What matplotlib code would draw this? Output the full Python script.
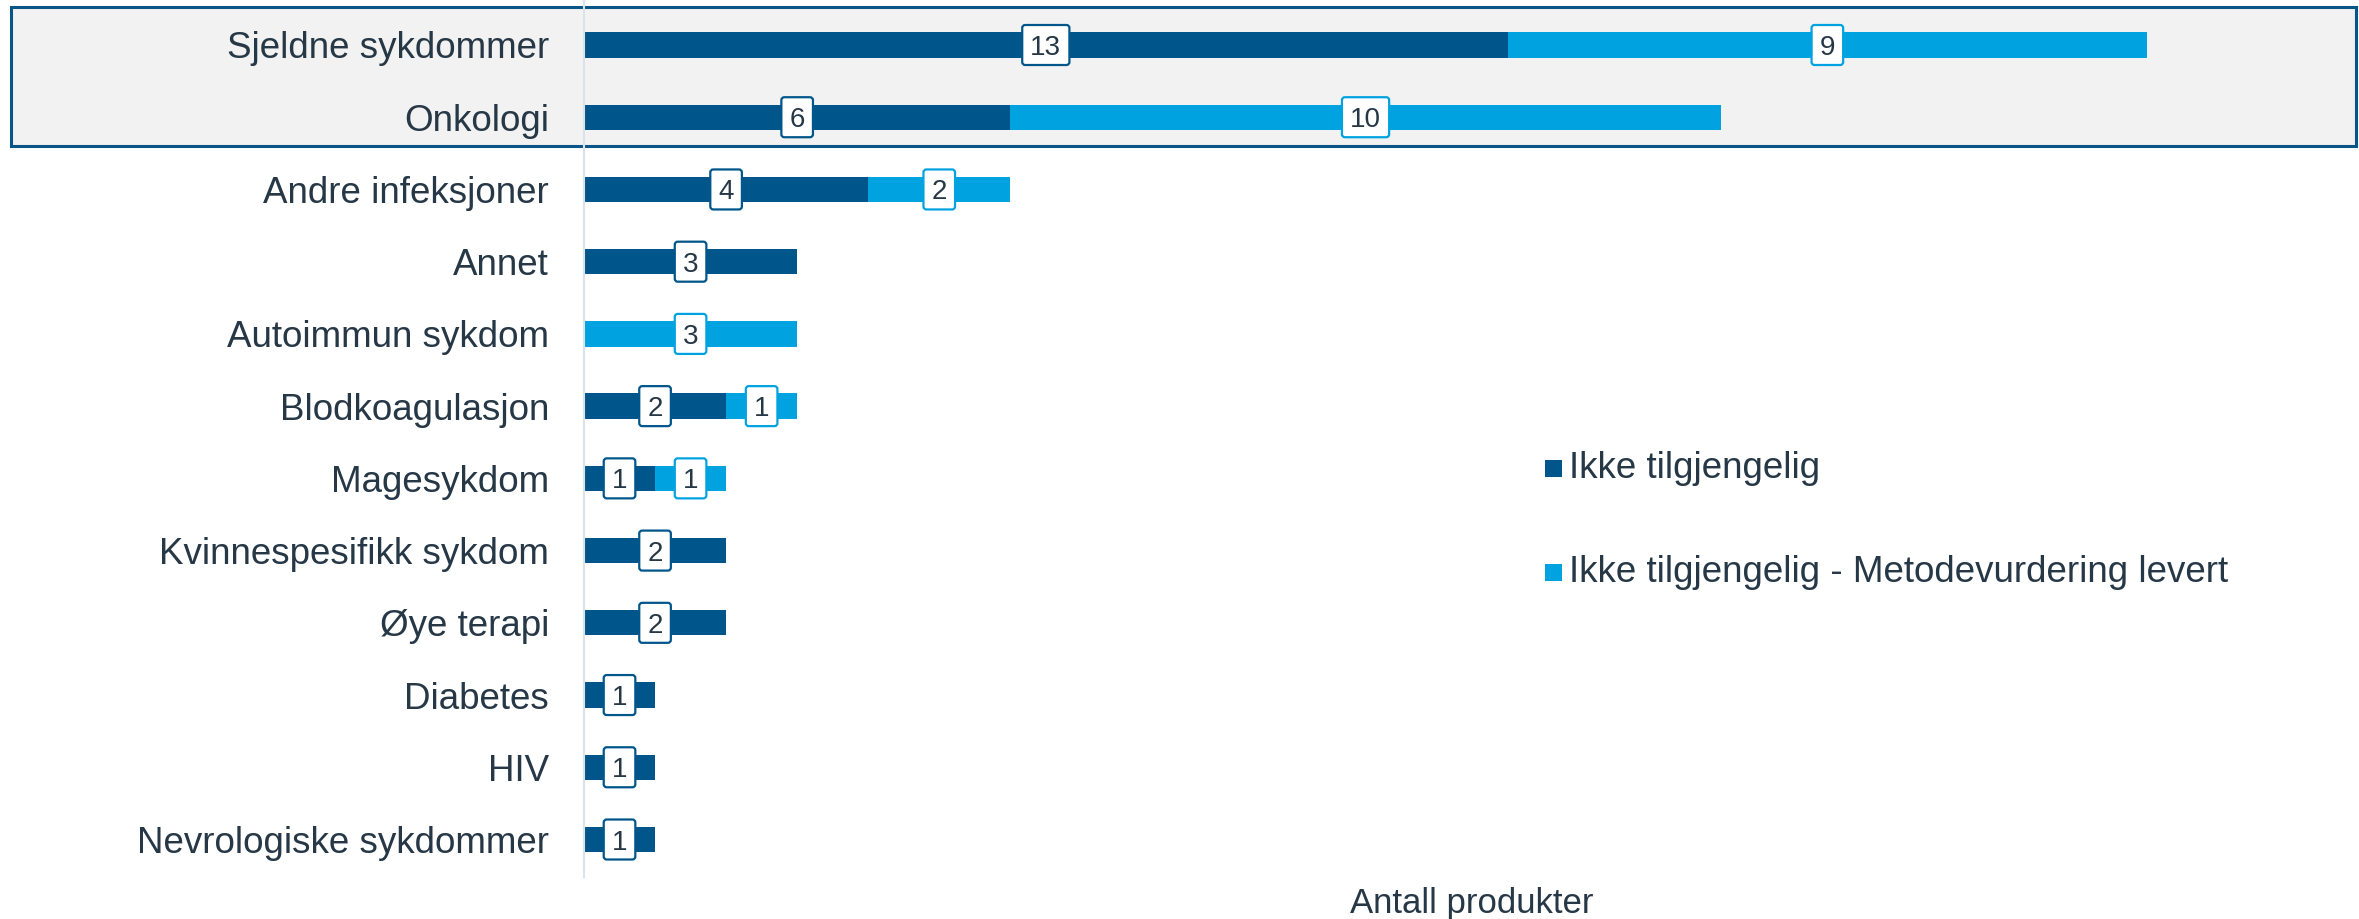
import matplotlib
matplotlib.use("Agg")
import matplotlib.pyplot as plt
import matplotlib.transforms as mtransforms
from matplotlib.patches import Rectangle, FancyBboxPatch
import numpy as np

plt.rcParams['font.family'] = ['Liberation Sans', 'DejaVu Sans']

categories = ["Sjeldne sykdommer", "Onkologi", "Andre infeksjoner", "Annet",
              "Autoimmun sykdom", "Blodkoagulasjon", "Magesykdom",
              "Kvinnespesifikk sykdom", "Øye terapi", "Diabetes", "HIV",
              "Nevrologiske sykdommer"]
ikke_tilgjengelig = [13, 6, 4, 3, 0, 2, 1, 2, 2, 1, 1, 1]
metodevurdering_levert = [9, 10, 2, 0, 3, 1, 1, 0, 0, 0, 0, 0]
series_names = ["Ikke tilgjengelig", "Ikke tilgjengelig - Metodevurdering levert"]
xlabel = "Antall produkter"

DARK = "#00568a"
LIGHT = "#00a3e0"
TEXT = "#263746"

W, H = 2359, 919
fig = plt.figure(figsize=(W / 100, H / 100), dpi=100)

# highlight box (figure pixel coordinates)
bx0, by0, bx1, by1 = 11, 7, 2356, 146
box = Rectangle((bx0 / W, 1 - by1 / H), (bx1 - bx0) / W, (by1 - by0) / H,
                transform=fig.transFigure, facecolor="#f2f2f2",
                edgecolor="#0a5588", linewidth=2.2)
box.set_zorder(-5)
fig.patches.append(box)

ax_left = 584 / W
ax_bottom = (H - 877) / H
ax = fig.add_axes([ax_left, ax_bottom, 1 - ax_left, 877 / H])
ax.set_zorder(1)
ax.set_facecolor("none")
ax.patch.set_alpha(0)

n = len(categories)
y = np.arange(n)
bar_h = 0.35
a = np.array(ikke_tilgjengelig, dtype=float)
b = np.array(metodevurdering_levert, dtype=float)
ax.barh(y, a, height=bar_h, color=DARK, zorder=2)
ax.barh(y, b, left=a, height=bar_h, color=LIGHT, zorder=2)

# row spacing ~72.23 px; row 0 center at 45 px from top, row 11 at 839.5 px
ax.set_ylim(11 + 37.5 / 72.23, -45 / 72.23)
ax.set_xlim(0, 1775 / 71.05)


def label(xc, yc, v, col):
    s = str(v)
    bw = 16 + 15.6 * len(s)
    bh = 40
    tr = mtransforms.ScaledTranslation(xc, yc, ax.transData)
    # pixel-unit box centred on the data point (fig dpi == save dpi)
    patch = FancyBboxPatch((-bw / 2, -bh / 2), bw, bh,
                           boxstyle="round,pad=0,rounding_size=3",
                           transform=mtransforms.IdentityTransform() + tr,
                           facecolor="white", edgecolor=col, linewidth=1.6, zorder=4)
    ax.add_artist(patch)
    ax.annotate(s, (xc, yc), xytext=(0, -7.2), textcoords="offset points",
                ha="center", va="baseline", fontsize=20, color=TEXT, zorder=5)


for i in range(n):
    if a[i] > 0:
        label(a[i] / 2, y[i], int(a[i]), DARK)
    if b[i] > 0:
        label(a[i] + b[i] / 2, y[i], int(b[i]), LIGHT)

for s in ["top", "right", "bottom"]:
    ax.spines[s].set_visible(False)
ax.spines["left"].set_color("#dbe3e9")
ax.spines["left"].set_linewidth(1.5)
ax.set_xticks([])
ax.set_yticks(y)
ax.set_yticklabels(categories, fontsize=26.5, color=TEXT)
ax.tick_params(axis="y", length=0, pad=35 * 0.72)

fig.text((584 + 2359) / 2 / W, 1 - 903 / H, xlabel, ha="center", va="center",
         fontsize=25, color=TEXT)

# legend
for yy, col, name in [(468, DARK, series_names[0]), (572, LIGHT, series_names[1])]:
    fig.patches.append(Rectangle((1545 / W, 1 - (yy + 8.5) / H), 17 / W, 17 / H,
                                 transform=fig.transFigure, facecolor=col,
                                 edgecolor="none"))
    fig.text(1569 / W, 1 - yy / H, name, ha="left", va="center",
             fontsize=26.5, color=TEXT)

fig.savefig("out.png", dpi=100)
